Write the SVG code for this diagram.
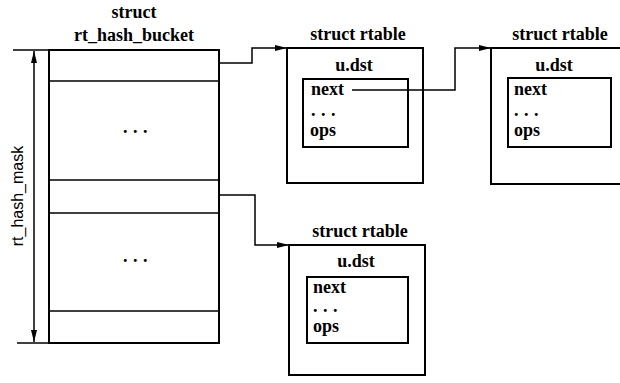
<svg xmlns="http://www.w3.org/2000/svg" width="620" height="383" viewBox="0 0 620 383">
  <style>
    .box { fill: none; stroke: #000; stroke-width: 2; }
    .thin { fill: none; stroke: #000; stroke-width: 1.5; }
    .wire { fill: none; stroke: #000; stroke-width: 1.5; }
    .t { font-family: "Liberation Serif", "Times New Roman", serif; font-weight: bold; font-size: 18px; fill: #000; }
    .mid { text-anchor: middle; }
    .dots { letter-spacing: 5.5px; }
    .sans { font-family: "Liberation Sans", Arial, sans-serif; font-size: 16px; fill: #000; }
  </style>
  <defs>
    <marker id="arrow" viewBox="0 0 12 6" refX="12" refY="3" markerWidth="12" markerHeight="6" markerUnits="userSpaceOnUse" orient="auto-start-reverse">
      <path d="M0,0 L12,3 L0,6 Z" fill="#000"/>
    </marker>
  </defs>
  <rect width="620" height="383" fill="#fff"/>

  <!-- hash bucket array -->
  <g id="bucket">
    <text class="t mid" x="134" y="18">struct</text>
    <text class="t mid" x="134" y="41">rt_hash_bucket</text>
    <rect class="box" x="49" y="50" width="170" height="293"/>
    <line class="thin" x1="49" y1="81" x2="219" y2="81"/>
    <line class="thin" x1="49" y1="180" x2="219" y2="180"/>
    <line class="thin" x1="49" y1="213" x2="219" y2="213"/>
    <line class="thin" x1="49" y1="311" x2="219" y2="311"/>
    <text class="t dots" x="123" y="133">...</text>
    <text class="t dots" x="123" y="262">...</text>
  </g>

  <!-- size dimension -->
  <g id="mask">
    <line class="thin" x1="13" y1="50" x2="49" y2="50"/>
    <line class="thin" x1="17" y1="343" x2="49" y2="343"/>
    <line class="thin" x1="34" y1="51" x2="34" y2="342" marker-start="url(#arrow)" marker-end="url(#arrow)"/>
    <text class="sans mid" transform="translate(23,196) rotate(-90)">rt_hash_mask</text>
  </g>

  <!-- rtable 1 -->
  <g id="rtable1">
    <text class="t mid" x="358" y="40">struct rtable</text>
    <rect class="box" x="287" y="48" width="136" height="135"/>
    <text class="t mid" x="354" y="71">u.dst</text>
    <rect class="box" x="303" y="79" width="105" height="68"/>
    <text class="t" x="311" y="95">next</text>
    <text class="t dots" x="311" y="116">...</text>
    <text class="t" x="310" y="136">ops</text>
  </g>

  <!-- rtable 2 -->
  <g id="rtable2">
    <text class="t mid" x="560" y="40">struct rtable</text>
    <rect class="box" x="491" y="48" width="136" height="136"/>
    <text class="t mid" x="554" y="71">u.dst</text>
    <rect class="box" x="508" y="78" width="103" height="69"/>
    <text class="t" x="514" y="95">next</text>
    <text class="t dots" x="514" y="116">...</text>
    <text class="t" x="514" y="136">ops</text>
  </g>

  <!-- rtable 3 -->
  <g id="rtable3">
    <text class="t mid" x="360" y="237">struct rtable</text>
    <rect class="box" x="289" y="245" width="136" height="130"/>
    <text class="t mid" x="356" y="267">u.dst</text>
    <rect class="box" x="307" y="277" width="101" height="66"/>
    <text class="t" x="313" y="293">next</text>
    <text class="t dots" x="313" y="312">...</text>
    <text class="t" x="313" y="332">ops</text>
  </g>

  <!-- pointers -->
  <g id="connectors">
    <polyline class="wire" points="219,63 252,63 252,48 287,48" marker-end="url(#arrow)"/>
    <polyline class="wire" points="352,90 455,90 455,48 491,48" marker-end="url(#arrow)"/>
    <polyline class="wire" points="219,195 255,195 255,245 289,245" marker-end="url(#arrow)"/>
  </g>
</svg>
